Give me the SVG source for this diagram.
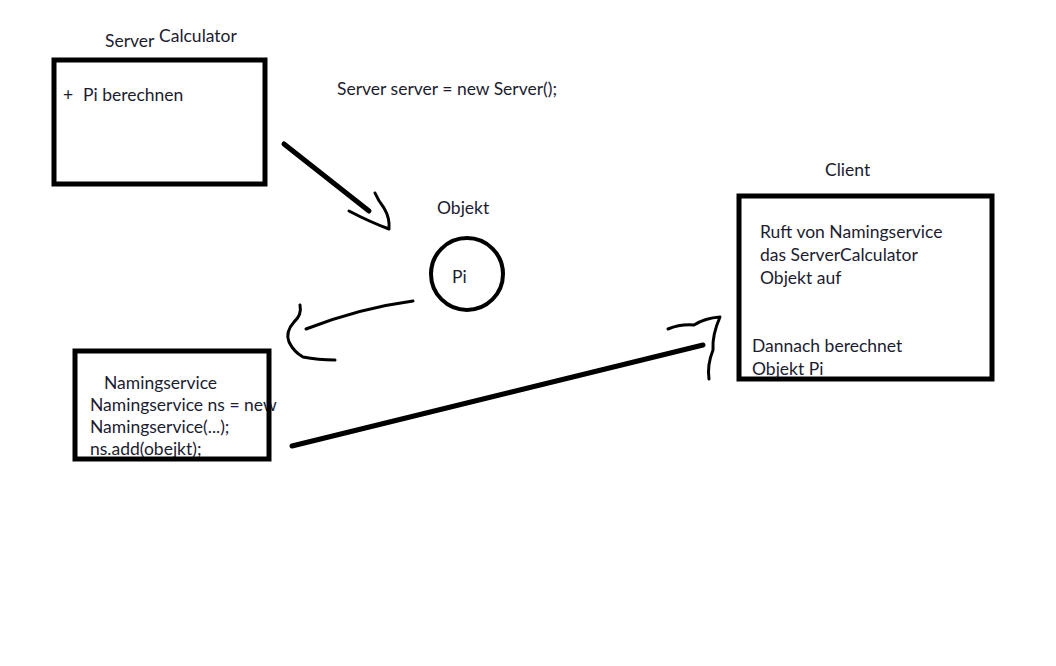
<svg xmlns="http://www.w3.org/2000/svg" width="1056" height="666" viewBox="0 0 1056 666">
<style>
.t{font-family:Lato,"Open Sans",sans-serif;font-size:17.5px;fill:#1c1c30}
.box{fill:none;stroke:#000;stroke-width:5}
.ln{fill:none;stroke:#000;stroke-linecap:round;stroke-linejoin:round}
</style>
<rect width="1056" height="666" fill="#fff"/>
<g id="server">
<rect class="box" x="54" y="60" width="211" height="124"/>
<text class="t" x="105" y="47">Server</text>
<text class="t" x="159" y="42">Calculator</text>
<text class="t" x="63" y="101">+</text>
<text class="t" x="83" y="101">Pi berechnen</text>
</g>
<text class="t" x="337" y="95">Server server = new Server();</text>
<g id="objekt">
<circle cx="467" cy="274" r="36" fill="none" stroke="#000" stroke-width="4"/>
<text class="t" x="437" y="214">Objekt</text>
<text class="t" x="452" y="283">Pi</text>
</g>
<g id="namingservice">
<text class="t" x="104" y="389">Namingservice</text>
<text class="t" x="90" y="411">Namingservice ns = new</text>
<text class="t" x="90" y="433">Namingservice(...);</text>
<text class="t" x="90" y="455">ns.add(obejkt);</text>
<rect class="box" x="75" y="351" width="194" height="108"/>
</g>
<g id="client">
<rect class="box" x="739" y="196" width="253" height="183"/>
<text class="t" x="825" y="176">Client</text>
<text class="t" x="760" y="238">Ruft von Namingservice</text>
<text class="t" x="760" y="261">das ServerCalculator</text>
<text class="t" x="760" y="284">Objekt auf</text>
<text class="t" x="752" y="352">Dannach berechnet</text>
<text class="t" x="752" y="375">Objekt Pi</text>
</g>
<g id="connectors">
<path class="ln" stroke-width="5" d="M284 144 L369 211"/>
<path class="ln" stroke-width="3" d="M349 211 Q370 222 389 229 Q390 218 384 208 Q378 200 375 193"/>
<path class="ln" stroke-width="3" d="M413 301 Q360 308 306 329"/>
<path class="ln" stroke-width="3" d="M300 305 Q302 315 294 322 Q285 332 289 342 Q294 352 303 357 Q318 360 335 360"/>
<path class="ln" stroke-width="5" d="M292 446 L703 345"/>
<path class="ln" stroke-width="3" d="M668 329 Q680 324 694 325 Q705 318 720 317 Q712 335 713 350 Q707 365 709 379"/>
</g>
</svg>
